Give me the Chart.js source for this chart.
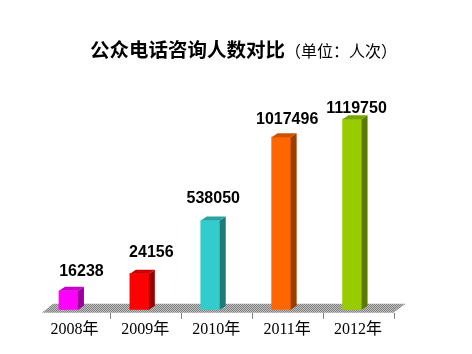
<!DOCTYPE html>
<html>
<head>
<meta charset="utf-8">
<script src="https://cdn.jsdelivr.net/npm/chart.js@4"></script>
<style>
  html, body { margin: 0; padding: 0; background: #fff; }
  #chart { display: block; }
</style>
</head>
<body>
<canvas id="chart" width="472" height="354"></canvas>
<script>
// 年份
const years = ['2008年', '2009年', '2010年', '2011年', '2012年'];
// 图上标注的人次
const visitors = [16238, 24156, 538050, 1017496, 1119750];
// 原图柱子高度并不按人次比例，这里按图上量出的相对高度
const barHeights = [19, 36, 89, 172, 190];

const frontColors = ['#ff00ff', '#ff0000', '#33cccc', '#ff6600', '#99cc00'];
const sideColors = ['#990099', '#990000', '#1f7a7a', '#993d00', '#5c7a00'];
const topColors = ['#cc00cc', '#cc0000', '#29a3a3', '#cc5200', '#7aa300'];

function checker() {
    const c = document.createElement('canvas');
    c.width = 2; c.height = 2;
    const g = c.getContext('2d');
    g.fillStyle = '#c0c0c0';
    g.fillRect(0, 0, 2, 2);
    g.fillStyle = '#808080';
    g.fillRect(0, 0, 1, 1);
    g.fillRect(1, 1, 1, 1);
    return c;
}

// 标题：粗体部分 + 单位
const titlePlugin = {
    id: 'titleText',
    afterDraw(chart) {
        const ctx = chart.ctx;
        ctx.save();
        ctx.textBaseline = 'middle';
        ctx.fillStyle = '#000';
        ctx.font = 'bold 19.5px "Noto Sans CJK SC"';
        const main = '公众电话咨询人数对比';
        ctx.fillText(main, 90, 50);
        const w = ctx.measureText(main).width;
        ctx.font = '16px "Noto Sans CJK SC"';
        ctx.fillText('（单位：人次）', 90 + w, 51);
        ctx.restore();
    }
};

// 地板
const floorPlugin = {
    id: 'floor',
    beforeDatasetsDraw(chart) {
        const ctx = chart.ctx;
        const area = chart.chartArea;
        const y0 = chart.scales.y.getPixelForValue(0) + 3;
        const left = area.left + 9, right = area.right + 6;
        ctx.save();
        ctx.fillStyle = ctx.createPattern(checker(), 'repeat');
        ctx.beginPath();
        ctx.moveTo(left, y0);
        ctx.lineTo(left + 11, y0 - 9);
        ctx.lineTo(right + 12, y0 - 9);
        ctx.lineTo(right, y0);
        ctx.closePath();
        ctx.fill();
        // 刻度
        const step = (area.right - area.left) / years.length;
        ctx.strokeStyle = '#808080';
        ctx.lineWidth = 1;
        for (let k = 1; k <= years.length; k++) {
            const x = Math.round(area.left + 6 + k * step) + 0.5;
            ctx.beginPath();
            ctx.moveTo(x, y0);
            ctx.lineTo(x, y0 + 6);
            ctx.stroke();
        }
        ctx.restore();
    }
};

// 立体侧面、顶面和数值
const box3dPlugin = {
    id: 'box3d',
    afterDatasetsDraw(chart, args, opts) {
        const ctx = chart.ctx;
        const dx = 6, dy = 4;
        const bars = chart.getDatasetMeta(0).data;
        ctx.save();
        bars.forEach((bar, i) => {
            const l = bar.x - bar.width / 2, r = bar.x + bar.width / 2;
            const t = bar.y, b = bar.base;
            ctx.fillStyle = sideColors[i];
            ctx.beginPath();
            ctx.moveTo(r, t);
            ctx.lineTo(r + dx, t - dy);
            ctx.lineTo(r + dx, b - dy);
            ctx.lineTo(r, b);
            ctx.closePath();
            ctx.fill();
            ctx.fillStyle = topColors[i];
            ctx.beginPath();
            ctx.moveTo(l, t);
            ctx.lineTo(l + dx, t - dy);
            ctx.lineTo(r + dx, t - dy);
            ctx.lineTo(r, t);
            ctx.closePath();
            ctx.fill();

            const off = opts.offsets[i];
            ctx.fillStyle = '#000';
            ctx.font = 'bold 16px "Liberation Sans", Arial';
            ctx.textAlign = 'center';
            ctx.textBaseline = 'middle';
            ctx.fillText(String(visitors[i]), bar.x + off[0], t + off[1]);
        });
        ctx.restore();
    }
};

new Chart(document.getElementById('chart'), {
    type: 'bar',
    data: {
        labels: years,
        datasets: [{
            data: barHeights,
            backgroundColor: frontColors,
            borderWidth: 0,
            barThickness: 19
        }]
    },
    plugins: [floorPlugin, box3dPlugin, titlePlugin],
    options: {
        responsive: false,
        devicePixelRatio: 1,
        animation: false,
        layout: { padding: { left: 33, right: 84.5, top: 80, bottom: 5 } },
        plugins: {
            legend: { display: false },
            tooltip: { enabled: false },
            title: { display: false },
            box3d: { offsets: [[13, -19], [12, -21], [3, -22], [6, -18], [4.5, -11]] }
        },
        scales: {
            x: {
                grid: { display: false, drawTicks: false },
                border: { display: false },
                ticks: {
                    color: '#000',
                    padding: 10,
                    labelOffset: 6,
                    font: { family: '"Liberation Serif", "Noto Sans CJK SC"', size: 16 }
                }
            },
            y: {
                display: false,
                min: 0,
                max: 229
            }
        }
    }
});
</script>
</body>
</html>
